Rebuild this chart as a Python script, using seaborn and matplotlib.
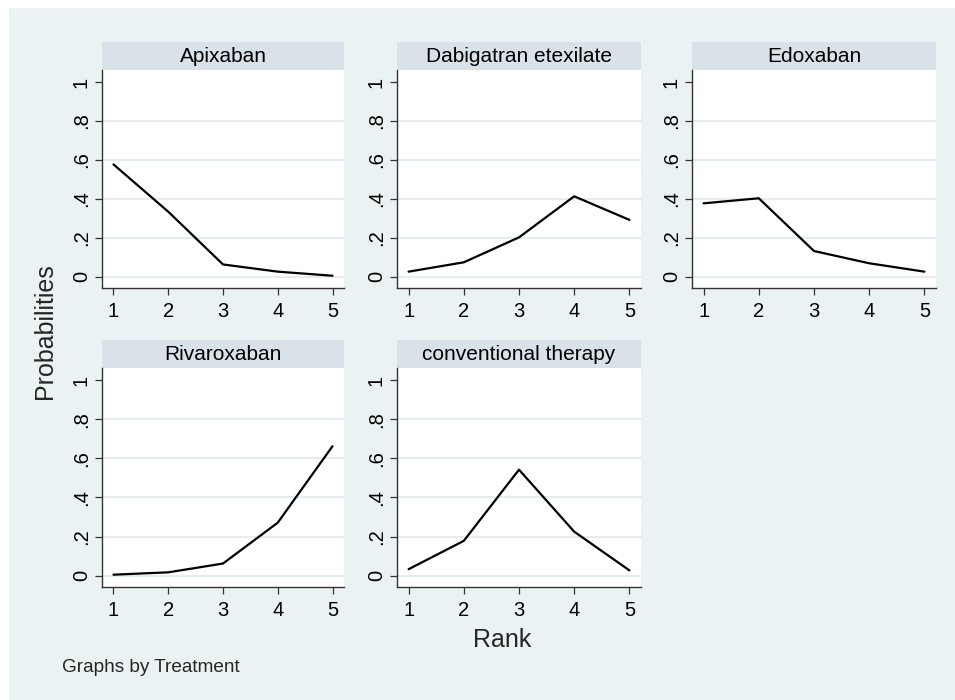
import pandas as pd
import matplotlib.pyplot as plt
import seaborn as sns
from matplotlib.patches import Rectangle

# rank probabilities per treatment
treatments = ['Apixaban', 'Dabigatran etexilate', 'Edoxaban', 'Rivaroxaban', 'conventional therapy']
ranks = [1, 2, 3, 4, 5]
apixaban = [0.577, 0.334, 0.063, 0.026, 0.005]
dabigatran = [0.026, 0.074, 0.202, 0.413, 0.292]
edoxaban = [0.377, 0.403, 0.132, 0.069, 0.026]
rivaroxaban = [0.005, 0.017, 0.062, 0.271, 0.662]
conventional = [0.033, 0.178, 0.542, 0.225, 0.027]
yticks = [0, 0.2, 0.4, 0.6, 0.8, 1]
ytick_labels = ['0', '.2', '.4', '.6', '.8', '1']

rows = []
for name, vals in zip(treatments, [apixaban, dabigatran, edoxaban, rivaroxaban, conventional]):
    for r, v in zip(ranks, vals):
        rows.append({'Treatment': name, 'Rank': r, 'Probabilities': v})
df = pd.DataFrame(rows)

sns.set_style('white')
plt.rcParams['font.family'] = ['Liberation Sans', 'DejaVu Sans']

bg = '#EAF2F3'
strip = '#D9E2E8'
W, H = 955, 700

g = sns.relplot(data=df, x='Rank', y='Probabilities', col='Treatment', col_wrap=3,
                kind='line', color='black', linewidth=1.6, col_order=treatments,
                facet_kws={'sharex': False, 'sharey': False})
fig = g.figure
fig.set_size_inches(W / 100, H / 100)
fig.set_dpi(100)
fig.patch.set_facecolor('white')
fig.patches.append(Rectangle((9 / W, 0), 1, 1 - 8 / H, transform=fig.transFigure,
                             facecolor=bg, edgecolor='none', zorder=-10))

cols = [(102, 344), (397, 641), (692, 936)]
rows_px = [(70, 288), (368, 587)]

for i, name in enumerate(treatments):
    ax = g.axes[i]
    x0, x1 = cols[i % 3]
    y0, y1 = rows_px[i // 3]
    ax.set_position([x0 / W, 1 - y1 / H, (x1 - x0) / W, (y1 - y0) / H])
    ax.set_facecolor('white')
    ax.set_xlim(0.79, 5.21)
    ax.set_ylim(-0.058, 1.062)
    ax.set_xticks(ranks)
    ax.set_yticks(yticks)
    ax.set_yticklabels(ytick_labels, rotation=90, va='center')
    for t in [0, 0.2, 0.4, 0.6, 0.8]:
        ax.axhline(t, color='#E4EDF0', lw=1.4, zorder=0)
    ax.tick_params(axis='both', direction='out', length=5, width=0.9, color='#333333',
                   labelsize=14.5, labelcolor='black', left=True, bottom=True)
    ax.tick_params(axis='x', pad=5)
    ax.tick_params(axis='y', pad=3)
    for s in ['top', 'right']:
        ax.spines[s].set_visible(False)
    for s in ['left', 'bottom']:
        ax.spines[s].set_color('#333333')
        ax.spines[s].set_linewidth(1.0)
    ax.set_xlabel('')
    ax.set_ylabel('')
    ax.set_title('')
    # title strip above the plot region
    sh = 28 / (y1 - y0)
    ax.add_patch(Rectangle((0, 1), 1, sh, transform=ax.transAxes, facecolor=strip,
                           edgecolor='none', clip_on=False))
    ax.text(0.5, 1 + sh / 2, name, transform=ax.transAxes, ha='center', va='center',
            fontsize=15, color='black')

fig.text(45 / W, 1 - 331 / H, 'Probabilities', rotation=90, ha='center', va='center', fontsize=18)
fig.text(502 / W, 1 - 640 / H, 'Rank', ha='center', va='center', fontsize=18)
fig.text(62 / W, 1 - 667 / H, 'Graphs by Treatment', ha='left', va='center', fontsize=13.7)

fig.savefig('out.png', dpi=100, facecolor=fig.get_facecolor())
